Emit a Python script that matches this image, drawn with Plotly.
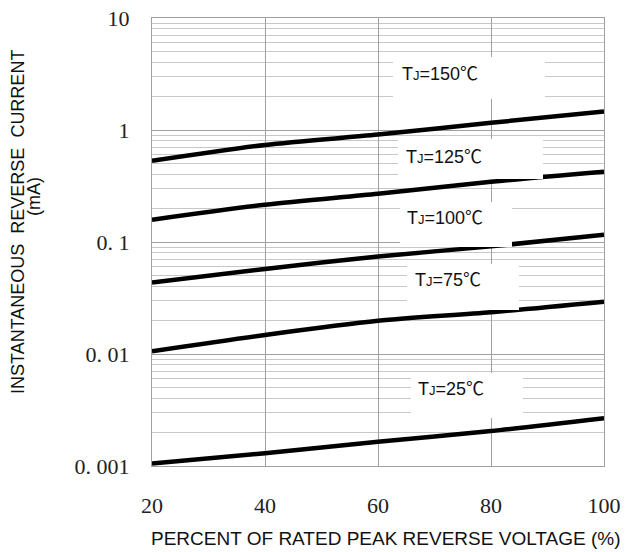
import plotly.graph_objects as go

# ---- data ----
voltage_pct = [20, 40, 60, 80, 100]
i_150 = [0.53, 0.735, 0.91, 1.16, 1.46]
i_125 = [0.158, 0.215, 0.27, 0.345, 0.424]
i_100 = [0.0434, 0.0575, 0.0743, 0.0914, 0.116]
i_75 = [0.0106, 0.0148, 0.0198, 0.0236, 0.0293]
i_25 = [0.00105, 0.0013, 0.00165, 0.00205, 0.00267]

series = [("150", i_150), ("125", i_125), ("100", i_100), ("75", i_75), ("25", i_25)]

y_tickvals = [0.001, 0.01, 0.1, 1, 10]
y_ticktext = ["0. 001", "0. 01", "0. 1", "1", "10"]
x_tickvals = [20, 40, 60, 80, 100]

# ---- layout geometry (pixels) ----
W, H = 627, 552
L, R, T, B = 152, 604, 18, 466


def px(x):
    return (x - L) / (R - L)


def py(y):
    return (B - y) / (B - T)


fig = go.Figure()
for name, vals in series:
    fig.add_trace(go.Scatter(
        x=voltage_pct, y=vals, mode="lines",
        line=dict(color="black", width=4.5, shape="spline", smoothing=0.8),
        name=name, showlegend=False, hoverinfo="skip"))

minor_vals = [m * 10.0 ** e for e in range(-3, 1) for m in range(2, 10)]

fig.update_layout(
    template="none",
    width=W, height=H,
    margin=dict(l=L, r=W - R, t=T, b=H - B, pad=0),
    paper_bgcolor="white", plot_bgcolor="white",
    showlegend=False,
    xaxis=dict(
        range=[20, 100], tickvals=x_tickvals, ticks="", automargin=False,
        ticklabeloverflow="allow",
        tickfont=dict(family="Liberation Serif, DejaVu Serif", size=22, color="#222"),
        ticklabelstandoff=20,
        showgrid=True, gridcolor="#a0a0a0", gridwidth=1,
        showline=True, linecolor="#a0a0a0", linewidth=1, mirror=True,
        zeroline=False),
    yaxis=dict(
        type="log", range=[-3, 1], tickvals=y_tickvals, ticktext=y_ticktext, ticks="",
        automargin=False, ticklabeloverflow="allow",
        tickfont=dict(family="Liberation Serif, DejaVu Serif", size=22, color="#222"),
        ticklabelstandoff=17,
        showgrid=True, gridcolor="#a0a0a0", gridwidth=1,
        minor=dict(tickvals=minor_vals, showgrid=True, gridcolor="#c8c8c8", gridwidth=1, ticks=""),
        showline=True, linecolor="#a0a0a0", linewidth=1, mirror=True,
        zeroline=False),
)

# white label boxes (pixel rectangles) and labels
boxes = [
    ("150", 393, 545, 57, 99, 400, 72),
    ("125", 398, 543, 139, 179, 404, 155),
    ("100", 400, 512, 202, 247, 405, 216),
    ("75", 407, 519, 264, 310, 413, 278),
    ("25", 411, 523, 373, 418, 416, 387),
]
for name, x0, x1, y0, y1, tx, ty in boxes:
    fig.add_shape(type="rect", xref="paper", yref="paper",
                  x0=px(x0), x1=px(x1), y0=py(y1), y1=py(y0),
                  fillcolor="white", line=dict(width=0), layer="above")
    fig.add_annotation(xref="paper", yref="paper", x=px(tx), y=py(ty),
                       xanchor="left", yanchor="middle", showarrow=False,
                       text=('T<span style="font-size:13px">J</span>=' + name
                             + '<span style="font-family:Noto Sans CJK SC">℃</span>'),
                       font=dict(family="Liberation Sans, Noto Sans CJK SC", size=18, color="#111"))

# axis titles
fig.add_annotation(xref="paper", yref="paper", x=px(385.5), y=py(538),
                   xanchor="center", yanchor="middle", showarrow=False,
                   text="PERCENT OF RATED PEAK REVERSE VOLTAGE (%)",
                   font=dict(family="Liberation Sans, Arial", size=19, color="#111"))
fig.add_annotation(xref="paper", yref="paper", x=px(18), y=py(222),
                   xanchor="center", yanchor="middle", showarrow=False, textangle=-90,
                   text="INSTANTANEOUS&nbsp;&nbsp;REVERSE&nbsp;&nbsp;CURRENT",
                   font=dict(family="Liberation Sans, Arial", size=18, color="#111"))
fig.add_annotation(xref="paper", yref="paper", x=px(34), y=py(196),
                   xanchor="center", yanchor="middle", showarrow=False, textangle=-90,
                   text="(mA)",
                   font=dict(family="Liberation Sans, Arial", size=18, color="#111"))

fig.write_html("out.html", config={"displayModeBar": False},
               post_script="document.body.style.margin='0';")
